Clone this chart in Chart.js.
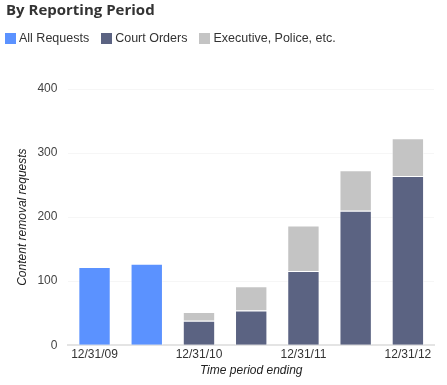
<!DOCTYPE html>
<html>
<head>
<meta charset="utf-8">
<script src="https://cdn.jsdelivr.net/npm/chart.js@4"></script>
<style>
  html, body { margin:0; padding:0; background:#fff; }
  body { width:447px; height:385px; position:relative; overflow:hidden; font-family:"Liberation Sans", Arial, sans-serif; }
  #title { position:absolute; left:6px; top:0px; font-family:"Open Sans", sans-serif; font-weight:700; font-size:15px; color:#333; line-height:18px; }
  #legend { position:absolute; left:5px; top:31px; font-size:12.5px; color:#333; display:flex; line-height:14px; }
  .item { display:flex; align-items:center; margin-right:12px; }
  .sw { width:11px; height:11px; margin-right:3px; }
  #wrap { position:absolute; left:0; top:0; width:447px; height:385px; }
</style>
</head>
<body>
<div id="wrap"><canvas id="c" width="447" height="385"></canvas></div>
<div id="title">By Reporting Period</div>
<div id="legend"></div>
<script>
const categories = ['12/31/09','6/30/10','12/31/10','6/30/11','12/31/11','6/30/12','12/31/12'];
const shownTicks = ['12/31/09','12/31/10','12/31/11','12/31/12'];
const allRequests = [122, 127, null, null, null, null, null];
const courtOrders = [null, null, 38, 54, 116, 210, 264];
const executivePolice = [null, null, 14, 38, 71, 63, 59];
const seriesNames = ['All Requests','Court Orders','Executive, Police, etc.'];
const seriesColors = ['#5b92ff','#5b6382','#c4c4c4'];

const leg = document.getElementById('legend');
seriesNames.forEach((n,i)=>{
  const d = document.createElement('div'); d.className='item';
  const s = document.createElement('div'); s.className='sw'; s.style.background=seriesColors[i];
  const t = document.createElement('span'); t.textContent=n;
  d.appendChild(s); d.appendChild(t); leg.appendChild(d);
});

const font = {family:'"Liberation Sans", Arial, sans-serif', size:12};
new Chart(document.getElementById('c'), {
  type:'bar',
  data:{
    labels:categories,
    datasets:[
      {label:seriesNames[0], data:allRequests, backgroundColor:seriesColors[0], borderColor:'rgba(255,255,255,0.55)', borderWidth:1},
      {label:seriesNames[1], data:courtOrders, backgroundColor:seriesColors[1], borderColor:'rgba(255,255,255,0.55)', borderWidth:1},
      {label:seriesNames[2], data:executivePolice, backgroundColor:seriesColors[2], borderColor:'rgba(255,255,255,0.55)', borderWidth:1}
    ]
  },
  options:{
    responsive:false,
    animation:false,
    devicePixelRatio:1,
    layout:{padding:{top:89, right:13, left:15, bottom:7}},
    plugins:{legend:{display:false}, title:{display:false}, tooltip:{enabled:false}},
    datasets:{bar:{categoryPercentage:1, barPercentage:0.62}},
    scales:{
      x:{
        stacked:true,
        grid:{display:false, drawTicks:false},
        border:{display:true, color:'#e4e4e4', width:2},
        ticks:{color:'#333', font:font, autoSkip:false, maxRotation:0, padding:2,
          callback:function(v,i){ const l=categories[i]; return shownTicks.includes(l)?l:''; }},
        title:{display:true, text:'Time period ending', color:'#222', font:{family:font.family, size:12, style:'italic'}, padding:{top:0,bottom:0}}
      },
      y:{
        stacked:true,
        min:0, max:400,
        grid:{color:'#f6f6f6', drawTicks:false},
        border:{display:false},
        ticks:{stepSize:100, color:'#444', font:font, padding:11},
        title:{display:true, text:'Content removal requests', color:'#222', font:{family:font.family, size:12, style:'italic'}, padding:{top:0,bottom:-3}}
      }
    }
  }
});
</script>
</body>
</html>
